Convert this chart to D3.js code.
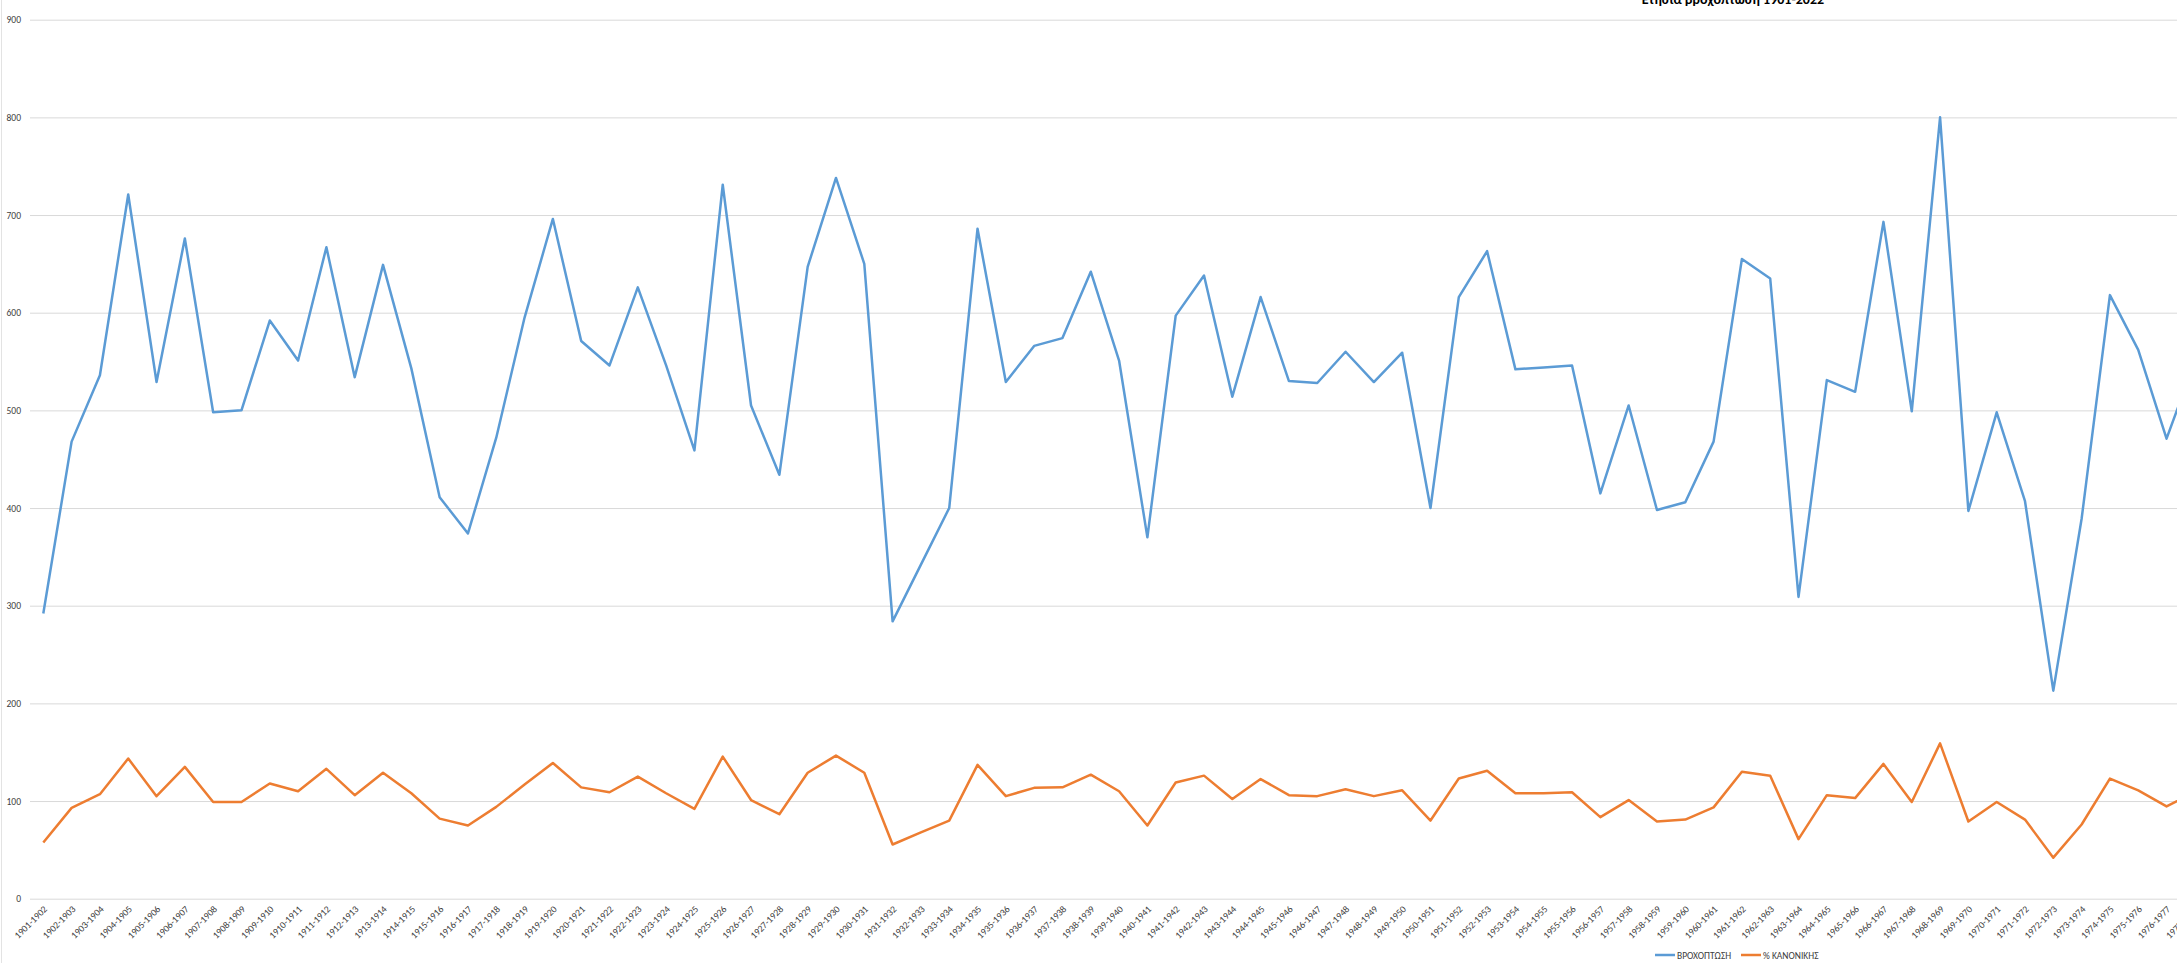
<!DOCTYPE html>
<html>
<head>
<meta charset="utf-8">
<script src="https://cdn.jsdelivr.net/npm/d3@7"></script>
<style>
  html, body { margin: 0; padding: 0; background: #fff; overflow: hidden; }
  svg { display: block; }
  text { font-family: Carlito, Calibri, "Liberation Sans", Arial, sans-serif; }
</style>
</head>
<body>
<svg id="chart" width="2177" height="963"></svg>
<script>
// ---- data ----
const title = "Ετήσια βροχόπτωση 1901-2022";
const categories = [
  "1901-1902","1902-1903","1903-1904","1904-1905","1905-1906","1906-1907","1907-1908","1908-1909","1909-1910","1910-1911",
  "1911-1912","1912-1913","1913-1914","1914-1915","1915-1916","1916-1917","1917-1918","1918-1919","1919-1920","1920-1921",
  "1921-1922","1922-1923","1923-1924","1924-1925","1925-1926","1926-1927","1927-1928","1928-1929","1929-1930","1930-1931",
  "1931-1932","1932-1933","1933-1934","1934-1935","1935-1936","1936-1937","1937-1938","1938-1939","1939-1940","1940-1941",
  "1941-1942","1942-1943","1943-1944","1944-1945","1945-1946","1946-1947","1947-1948","1948-1949","1949-1950","1950-1951",
  "1951-1952","1952-1953","1953-1954","1954-1955","1955-1956","1956-1957","1957-1958","1958-1959","1959-1960","1960-1961",
  "1961-1962","1962-1963","1963-1964","1964-1965","1965-1966","1966-1967","1967-1968","1968-1969","1969-1970","1970-1971",
  "1971-1972","1972-1973","1973-1974","1974-1975","1975-1976","1976-1977","1977-1978"
];
const rainfall = [
  292,468,536,721,529,676,498,500,592,551,
  667,534,649,543,411,374,472,595,696,571,
  546,626,546,459,731,505,434,647,738,650,
  284,342,400,686,529,566,574,642,551,370,
  597,638,514,616,530,528,560,529,559,400,
  616,663,542,544,546,415,505,398,406,468,
  655,635,309,531,519,693,499,800,397,498,
  407,213,389,618,562,471,550
];
const pctNormal = [
  57.5,93,107,143.5,105,135,99,99,118,110,
  133,106,129,108,82,75,94,117,139,114,
  109,125,108,92,145.5,101,86.5,129,146.5,129,
  55.5,68,80,137,105,113.5,114,127,110,75,
  119,126,102,122.5,106,105,112,105,111,80,
  123,131,108,108,109,83.5,101,79,81,93.5,
  130,126,61,106,103,138,99,159,79,99,
  81,42,76,123,111,94.5,109
];
const yTicks = [0,100,200,300,400,500,600,700,800,900];
const seriesNames = ["ΒΡΟΧΟΠΤΩΣΗ", "% ΚΑΝΟΝΙΚΗΣ"];
const seriesColors = ["#5B9BD5", "#ED7D31"];

// ---- layout ----
const W = 2177, H = 963;
const svg = d3.select("#chart");
const step = 28.31, x0 = 43.3;

const x = d3.scalePoint()
  .domain(categories)
  .range([x0, x0 + step * (categories.length - 1)]);
const y = d3.scaleLinear().domain([0, 900]).range([898.7, 19.7]);

// chart-area left border
svg.append("line")
  .attr("x1", 1.5).attr("x2", 1.5).attr("y1", 0).attr("y2", H)
  .attr("stroke", "#e3e3e3").attr("stroke-width", 1);

// title (cut off at the top, as in the reference)
svg.append("text")
  .attr("x", 1733).attr("y", 3.5)
  .attr("text-anchor", "middle")
  .attr("font-size", 14).attr("font-weight", "bold")
  .attr("fill", "#000")
  .text(title);

// gridlines
const yAxis = d3.axisLeft(y).tickValues(yTicks).tickSize(-(W - 30)).tickPadding(9).tickFormat(d3.format("d"));
const gY = svg.append("g").attr("transform", "translate(30,0)").call(yAxis);
gY.select(".domain").remove();
gY.selectAll(".tick line").attr("stroke", "#d9d9d9").attr("stroke-width", 1);
gY.selectAll(".tick text")
  .attr("fill", "#404040").attr("font-size", 9.5)
  .attr("font-family", "Carlito, Calibri, 'Liberation Sans', Arial, sans-serif");

// x axis labels
const xAxis = d3.axisBottom(x).tickSize(0).tickPadding(0);
const gX = svg.append("g").attr("transform", `translate(0,${y(0)})`).call(xAxis);
gX.select(".domain").remove();
gX.selectAll(".tick text")
  .attr("fill", "#404040").attr("font-size", 9.6)
  .attr("font-family", "Carlito, Calibri, 'Liberation Sans', Arial, sans-serif")
  .attr("text-anchor", "end")
  .attr("dy", null).attr("y", 0)
  .attr("transform", "translate(4,11) rotate(-45)");

// lines
const line = d3.line().x((d, i) => x(categories[i])).y(d => y(d));
[rainfall, pctNormal].forEach((s, k) => {
  svg.append("path")
    .datum(s)
    .attr("d", line)
    .attr("fill", "none")
    .attr("stroke", seriesColors[k])
    .attr("stroke-width", 2.5)
    .attr("stroke-linejoin", "round");
});

// legend
const legendItems = [
  { name: seriesNames[0], color: seriesColors[0], x: 1655 },
  { name: seriesNames[1], color: seriesColors[1], x: 1741 }
];
const lg = svg.append("g");
legendItems.forEach(it => {
  lg.append("line")
    .attr("x1", it.x).attr("x2", it.x + 20).attr("y1", 955).attr("y2", 955)
    .attr("stroke", it.color).attr("stroke-width", 2.5);
  lg.append("text")
    .attr("x", it.x + 22).attr("y", 958.5)
    .attr("font-size", 9.5).attr("fill", "#404040")
    .text(it.name);
});
</script>
</body>
</html>
